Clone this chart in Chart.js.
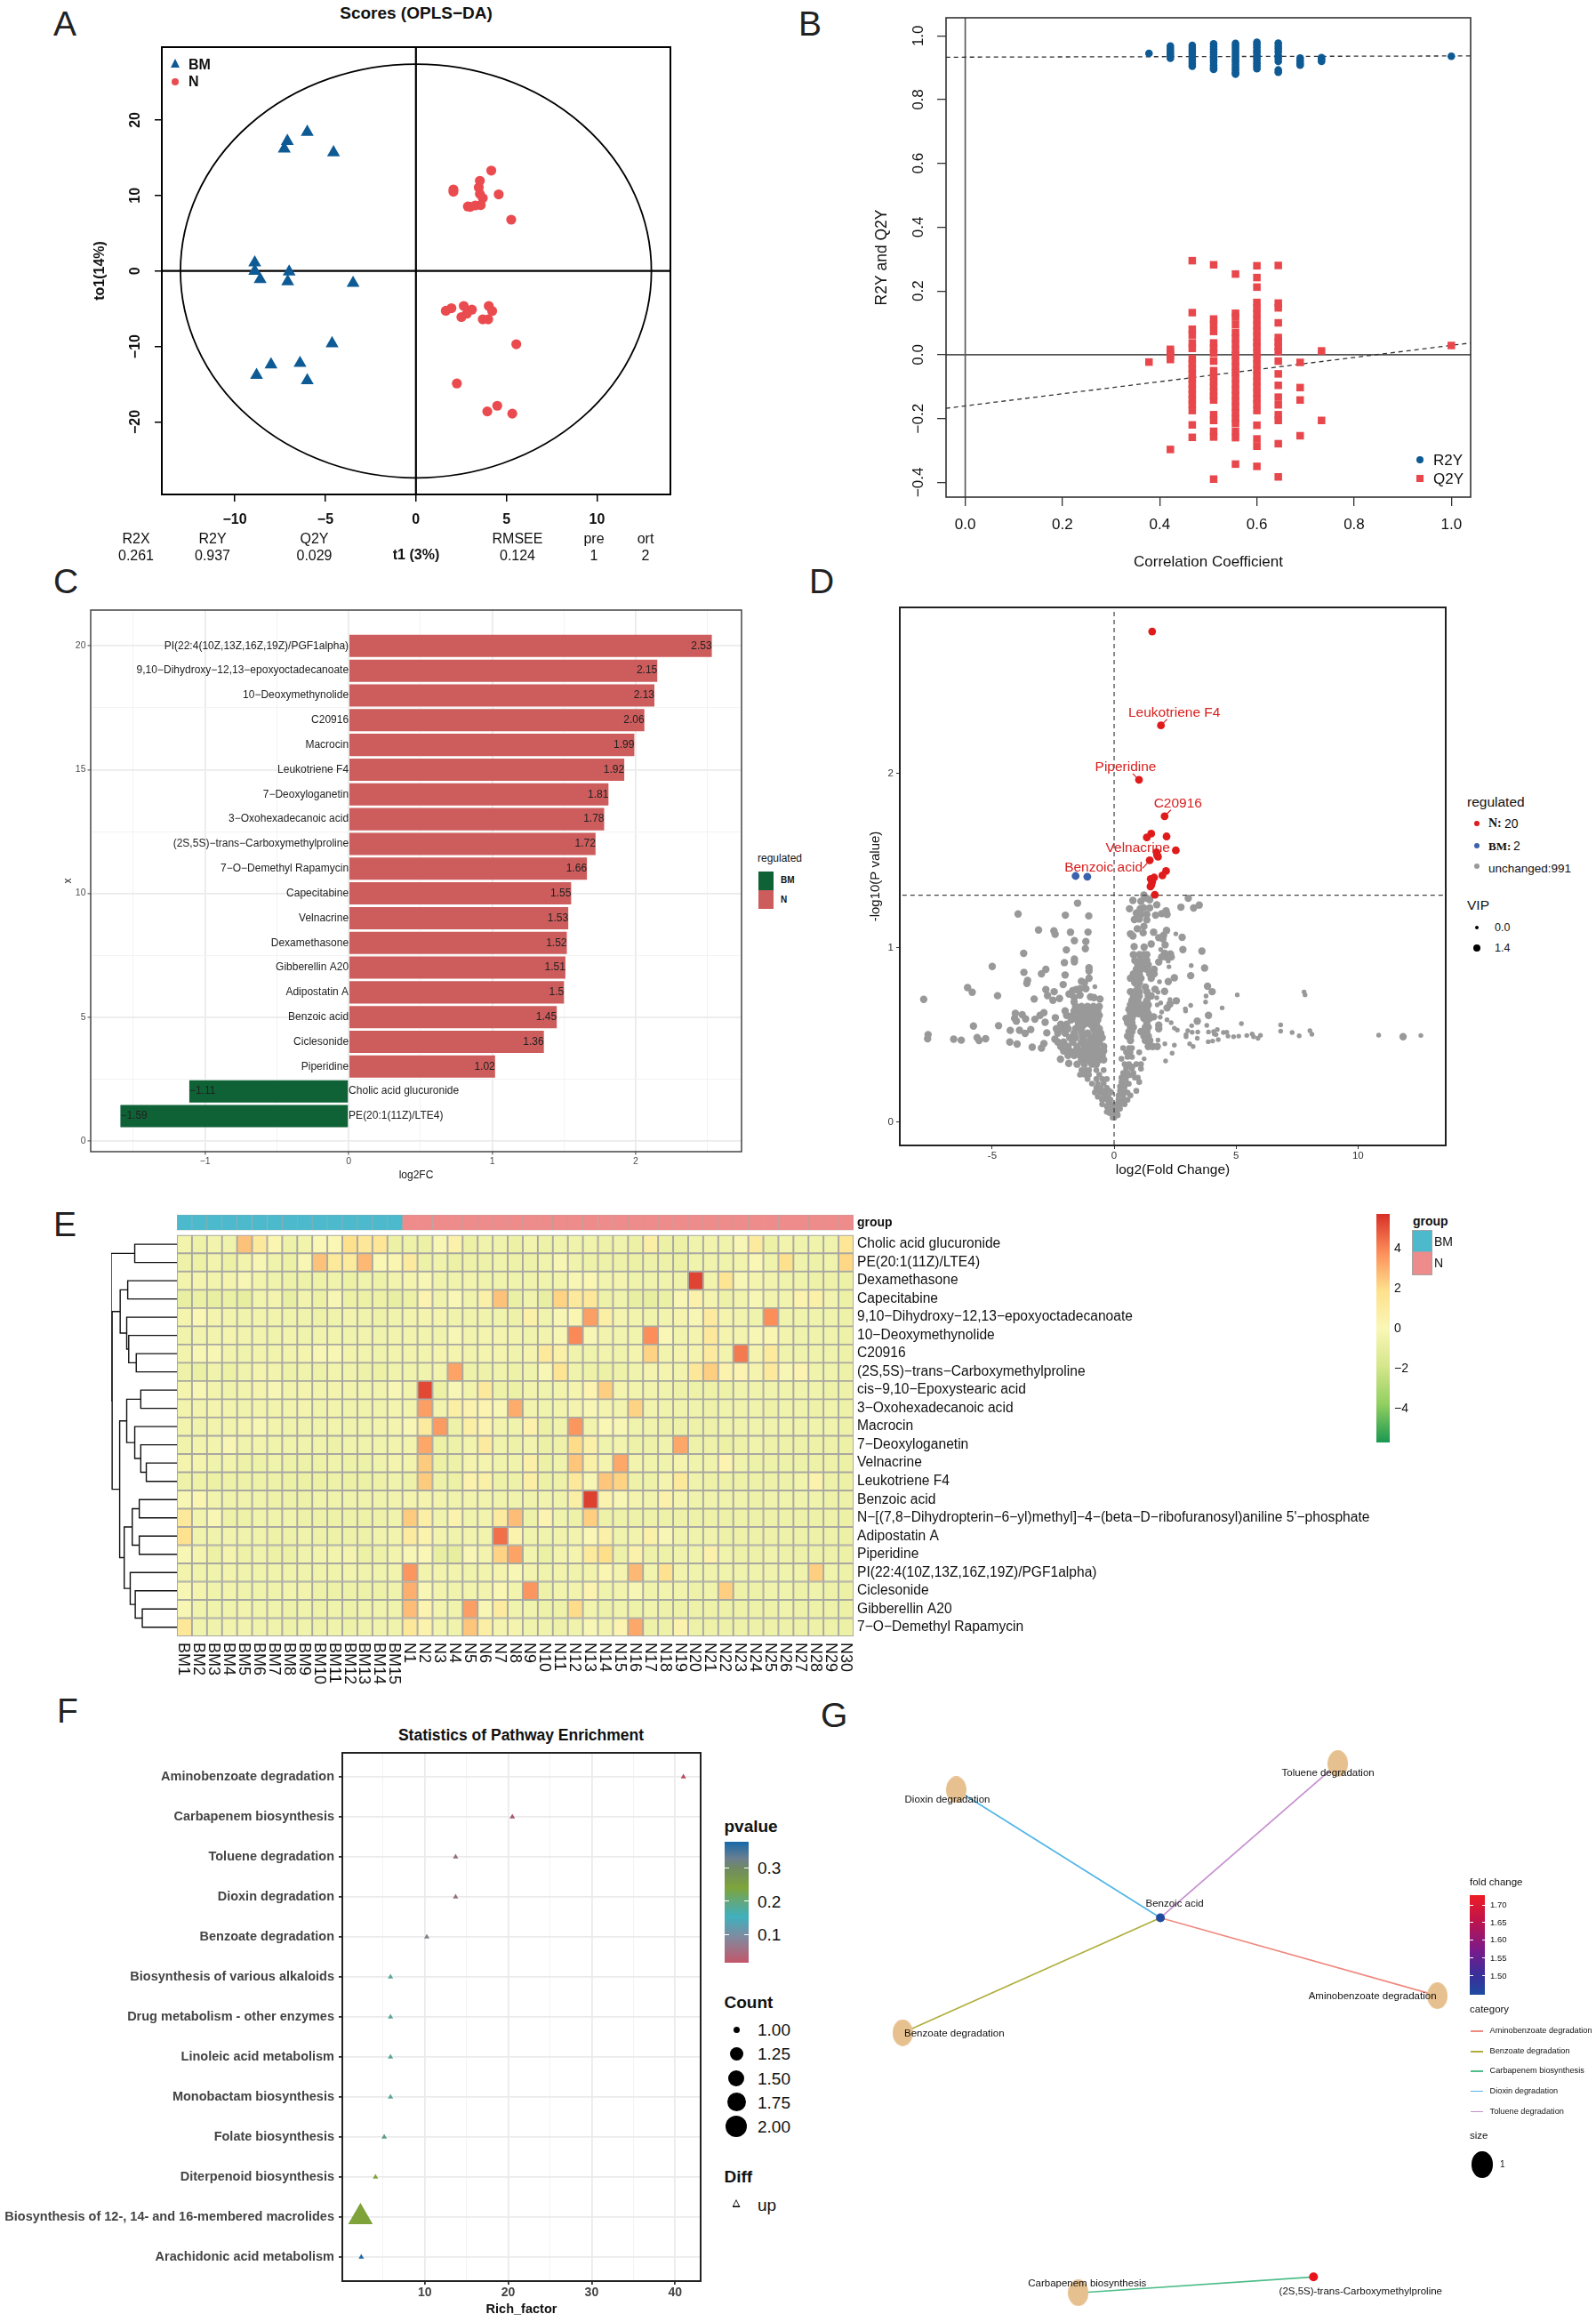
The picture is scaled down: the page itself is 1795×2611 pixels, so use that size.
<!DOCTYPE html>
<html>
<head>
<meta charset="utf-8">
<style>
html,body{margin:0;padding:0;background:#fff}
#page{position:relative;width:1795px;height:2611px;overflow:hidden;font-family:"Liberation Sans",Arial,sans-serif;color:#111}
#page canvas{position:absolute}
.t{position:absolute;white-space:nowrap;line-height:1}
.m{position:absolute}
</style>
<script src="https://cdn.jsdelivr.net/npm/chart.js@4"></script>
</head>
<body>
<div id="page"></div>
<script>
// panel A - OPLS-DA scores
const aBM = [[-6,18.4],[-7.1,17.2],[-7.27,16.2],[-4.55,15.7],[-8.9,1.1],[-8.9,0],[-7,-.1],[-8.6,-1.1],[-7.08,-1.4],[-3.47,-1.6],[-4.63,-9.6],[-8,-12.4],[-6.4,-12.2],[-8.8,-13.8],[-6,-14.5]];
const aN = [[4.16,13.3],[3.53,11.95],[3.47,11.07],[2.07,10.8],[2.07,10.5],[3.53,10.2],[4.57,10.15],[3.69,9.66],[3.58,8.73],[3.28,8.68],[2.87,8.54],[3,8.5],[5.26,6.8],
  [1.65,-5.27],[1.96,-4.93],[2.64,-4.63],[3.09,-5.12],[2.81,-5.66],[2.51,-6.1],[4.02,-4.63],[4.21,-5.3],[3.69,-6.4],[3.99,-6.4],[5.54,-9.7],[2.26,-14.9],[4.49,-17.85],[3.94,-18.6],[5.32,-18.9]];
const aEllipse = [13,27.4];

// panel B - permutation test
const bX = [.378,.422,.467,.511,.556,.6,.644,.689,.733,1];
const bR2Y = [
  [.945],
  [.968,.96,.952,.945,.938,.93],
  [.97,.962,.953,.945,.936,.928,.92,.912,.905],
  [.975,.966,.958,.95,.942,.933,.925,.917,.908,.9,.895],
  [.976,.968,.96,.951,.943,.935,.927,.919,.91,.902,.894,.886,.88],
  [.98,.972,.964,.955,.947,.938,.93,.921,.913,.905,.897],
  [.977,.968,.96,.95,.938,.93,.92,.893,.886],
  [.93,.922,.914,.908],
  [.932,.926,.92],
  [.936]
];
const bQ2Y = [
  [-.023],
  [.017,.008,-.003,-.015,-.297],
  [.295,.132,.08,.062,.037,.02,-.012,-.028,-.044,-.06,-.076,-.092,-.108,-.124,-.14,-.156,-.175,-.22,-.259],
  [.282,.112,.095,.073,.037,.02,.005,-.02,-.05,-.07,-.085,-.1,-.115,-.142,-.13,-.188,-.206,-.24,-.258,-.39],
  [.253,.13,.118,.095,.07,.052,.034,.016,-.002,-.02,-.038,-.056,-.074,-.092,-.11,-.128,-.146,-.164,-.182,-.2,-.215,-.24,-.26,-.343],
  [.279,.242,.212,.164,.146,.128,.11,.092,.074,.056,.038,.025,.005,-.012,-.03,-.048,-.066,-.084,-.102,-.12,-.138,-.155,-.175,-.221,-.264,-.287,-.35],
  [.28,.162,.147,.1,.054,.04,.025,.01,-.02,-.06,-.096,-.133,-.157,-.188,-.206,-.279,-.383],
  [-.024,-.103,-.142,-.254],
  [.012,-.206],
  [.029]
];
const bFitR2Y = [[-.04,.933],[1.04,.937]];
const bFitQ2Y = [[-.04,-.168],[1.04,.037]];

// panel C - log2FC bars
const cNames = ['PE(20:1(11Z)/LTE4)','Cholic acid glucuronide','Piperidine','Ciclesonide','Benzoic acid','Adipostatin A','Gibberellin A20','Dexamethasone','Velnacrine','Capecitabine','7−O−Demethyl Rapamycin','(2S,5S)−trans−Carboxymethylproline','3−Oxohexadecanoic acid','7−Deoxyloganetin','Leukotriene F4','Macrocin','C20916','10−Deoxymethynolide','9,10−Dihydroxy−12,13−epoxyoctadecanoate','PI(22:4(10Z,13Z,16Z,19Z)/PGF1alpha)'];
const cValues = [-1.59,-1.11,1.02,1.36,1.45,1.5,1.51,1.52,1.53,1.55,1.66,1.72,1.78,1.81,1.92,1.99,2.06,2.13,2.15,2.53];

// panel D - volcano
const dRed = [[1.56,2.816],[1.92,2.277],[1.02,1.965],[2.07,1.756],[1.52,1.656],[1.34,1.634],[2.15,1.64],[2.53,1.56],[1.74,1.549],[1.76,1.533],[1.8,1.523],[1.46,1.503],[2.13,1.442],[1.98,1.416],[1.64,1.404],[1.5,1.396],[1.56,1.379],[1.53,1.362],[1.49,1.353],[1.67,1.305]];
const dBlue = [[-1.58,1.413],[-1.1,1.409]];
const dGreyBig = [
  [-1.5,1.257],[-3.94,1.195],[-2,1.188],[-1.04,1.184],[-3.1,1.103],[-2.47,1.098],[-2.42,1.079],[-1.79,1.09],[-1.07,1.091],[-1.63,1.042],[-1.16,1.037],[-1.96,.989],[-1.18,.996],[-3.71,.969],[-2.04,.916],[-1.63,.936],[-1.63,.921],[-5,.894],[-1.03,.886],[-1.03,.868],[-3.7,.86],[-2.8,.877],[-2.98,.852],[-2.01,.845],[-1.03,.826],[-3.55,.814],[-3.58,.797],[-1.34,.809],[-1.22,.8],[-2.09,.79],[-6.01,.773],[-5.82,.746],[-7.81,.705],[-4.78,.726],[-2.8,.761],[-2.46,.749],[-2.73,.727],[-3.28,.707],[-2.51,.7],[-2.24,.71],[-1.85,.736],[-1.7,.755],[-1.56,.761],[-1.4,.766],[-1.16,.766],[-1.4,.729],[-1.64,.715],[-1.64,.69],[-.97,.719],[-.83,.715],[-.58,.707],
  [-4.05,.625],[-3.77,.617],[-4.08,.596],[-4.01,.58],[-3.63,.593],[-3.25,.591],[-3.04,.613],[-2.88,.629],[-2.83,.574],[-2.41,.6],[-2.01,.639],[-1.95,.613],[-5.77,.552],[-4.74,.554],[-4.26,.527],[-3.88,.528],[-3.65,.51],[-3.42,.532],[-2.76,.513],[-7.63,.503],[-7.65,.479],[-6.58,.477],[-6.27,.471],[-5.62,.486],[-5.54,.469],[-5.27,.479],[-4.28,.46],[-3.98,.449],[-3.36,.431],[-2.88,.452],[-2.98,.426],[-2.43,.477],[-2.2,.362],[-1.86,.338],
  [3.04,1.285],[2.74,1.234],[3.26,1.229],[3.49,1.246],[1.75,1.248],[1.7,1.188],[1.95,1.197],[2.13,1.213],[2.17,1.192],[.77,1.273],[.63,1.225],[1.1,1.268],[1.34,1.285],[1.46,1.276],[1.22,1.303],[1.07,1.225],[1.22,1.23],[1.46,1.23],[.91,1.2],[1.1,1.192],[1.34,1.192],[.83,1.163],[1.03,1.166],[1.34,1.161],[1.22,1.124],[.95,1.11],[1.19,1.087],[.67,1.081],[.77,1.069],[1.62,1.09],[2.15,1.101],[2.03,1.073],[2,1.052],[1.83,1.059],[2.79,1.061],[.82,1.008],[1.23,1.005],[1.52,1.023],[2.09,1.018],[2.82,.991],[3.6,.982],[2.07,.97],[2.31,.965],[1.95,.948],[2.13,.948],[2.34,.948],[1.83,.919],[3.71,.885],[3.14,.841],[2.47,.829],[2.22,.807],[3.83,.78],[4.02,.749],[2.07,.751],[1.68,.763],[2.55,.697],[2.29,.678],[2.17,.656],[3.87,.613],[3.41,.58],[1.62,.605],[1.83,.557],[1.83,.537],[11.85,.491]
];
const dGreySmall = [
  [2.53,1.081],[1.91,.991],[2.22,.925],[2.25,.892],[3.16,.899],[1.86,.806],[3.77,.724],[3.75,.69],[5.05,.731],[7.79,.748],[7.83,.731],[4.43,.656],[3.14,.671],[2.92,.651],[2.93,.639],[2.29,.704],[1.95,.632],[1.91,.685],[1.77,.673],[1.75,.714],[1.8,.746],[1.52,.732],[3.8,.556],[2.17,.588],[2.34,.571],[1.89,.603],[2.47,.54],[2.59,.529],[3.18,.554],[3.02,.525],[2.95,.503],[2.95,.491],[3.2,.516],[3.43,.518],[3.41,.482],[3.87,.518],[4.08,.52],[4.23,.532],[4.11,.506],[4.18,.503],[4.48,.515],[4.62,.516],[4.67,.494],[4.9,.491],[5.11,.494],[5.44,.498],[5.22,.566],[5.66,.506],[5.72,.491],[5.9,.482],[6,.499],[6.83,.559],[6.83,.523],[7.3,.515],[7.59,.496],[8.03,.525],[8.11,.505],[3.86,.462],[4.04,.466],[4.27,.474],[3.1,.45],[3.24,.435],[2.08,.45],[2.47,.442],[2.38,.396],[2.11,.352],[1.23,.364],[1.8,.472],[10.85,.5],[12.58,.498],[-.79,.778]
];
// solid parts of the two lobes, one row per -log10(P), x values after it
const dLobeBig = [
  [.664,-1.58,-1.34,-1.09,-.85,-.61],[.639,-1.64,-1.4,-1.16,-.91,-.67],[.613,-1.7,-1.52,-1.28,-1.03,-.79,-.61],[.588,-1.76,-1.52,-1.28,-1.09,-.85,-.67],
  [.562,-2.19,-1.95,-1.46,-1.22,-.97,-.73],[.537,-2.37,-2.13,-1.89,-1.58,-1.34,-.85,-.61],[.511,-2.31,-2.01,-1.64,-1.34,-1.09,-.79,-.55],[.486,-1.82,-1.58,-1.28,-.97,-.73,-.49],
  [.46,-2.31,-2.07,-1.7,-1.34,-1.09,-.85,-.61],[.435,-2.19,-1.89,-1.52,-1.22,-.97,-.73,-.43],[.409,-2.07,-1.82,-1.58,-1.34,-1.09,-.85,-.61,-.43],[.384,-1.89,-1.64,-1.4,-1.16,-.91,-.67,-.49],[.358,-1.34,-1.09,-.85,-.61,-.43],[.333,-1.52,-1.22,-.91,-.73],
  [.962,.79,1.04,1.22,1.34],[.928,.85,1.1,1.34],[.903,.97,1.22,1.4],[.877,.91,1.1,1.34,1.64],[.851,.79,1.03,1.46,1.64],[.826,.67,.91,1.1,1.52],[.8,.85,1.03],[.775,.97,1.28],[.749,.67,.85,1.03,1.34],[.724,.79,1.03,1.4,1.52],[.698,.73,.97,1.34],[.673,.67,.85,1.03,1.22,1.4],[.647,.61,.79,.97,1.16,1.34],[.622,.67,.85,1.03,1.22,1.4],[.596,.49,.73,1.22,1.46],[.571,.55,.73,1.34],[.545,.67,.79,1.28,1.4],[.52,.61,.73,1.1,1.34],[.494,.55,.67,1.22,1.4],[.469,.67,1.28,1.46],[.435,1.4,1.58,1.77]
];
const dLobeMid = [
  [.299,-1.34,-1.16,-1.03,-.73,-.43],[.273,-1.4,-1.22,-1.03,-.61],[.248,-1.09,-.73,-.49,-.3],[.222,-.91,-.67,-.43],[.197,-.73,-.55,-.3],[.171,-.79,-.55,-.36,-.12],[.146,-.67,-.43,-.24],[.103,-.49,-.24,-.12],[.078,-.24,-.12],[.052,-.18,-.06],[.027,-.06,0],
  [.18,-.6,-.4,-.2],[.13,-.5,-.3,-.15],[.09,-.3,-.18,-.06],[.06,-.3,-.1],
  [.426,.37,.61,.73],[.401,.49,.67,1.03],[.375,.55,.73],[.364,.3],[.333,.43,.61,.91,1.1],[.307,.49,.73,1.1],[.282,.37,.55,.79],[.256,.3,.49,.85,.97],[.231,.3,.49,1.03],[.205,.24,.43],[.18,.24,.43,.91],[.154,.18,.37,.67],[.129,.18,.37,.55],[.103,.06,.24,.43],[.078,.06,.24],[.052,0,.12],[.027,0],
  [.32,.55,.75],[.27,.45,.65],[.22,.4,.6],[.17,.3,.55],[.11,.2,.35],[.04,.05,.15]
];
const dNames = ['Leukotriene F4','Piperidine','C20916','Velnacrine','Benzoic acid'];
const dNamed = [[1.92,2.277],[1.02,1.965],[2.07,1.756],[1.74,1.549],[1.46,1.503]];

// panel E - heatmap
const eSamples = ['BM1','BM2','BM3','BM4','BM5','BM6','BM7','BM8','BM9','BM10','BM11','BM12','BM13','BM14','BM15','N1','N2','N3','N4','N5','N6','N7','N8','N9','N10','N11','N12','N13','N14','N15','N16','N17','N18','N19','N20','N21','N22','N23','N24','N25','N26','N27','N28','N29','N30'];
const eRows = ['Cholic acid glucuronide','PE(20:1(11Z)/LTE4)','Dexamethasone','Capecitabine','9,10−Dihydroxy−12,13−epoxyoctadecanoate','10−Deoxymethynolide','C20916','(2S,5S)−trans−Carboxymethylproline','cis−9,10−Epoxystearic acid','3−Oxohexadecanoic acid','Macrocin','7−Deoxyloganetin','Velnacrine','Leukotriene F4','Benzoic acid',"N−[(7,8−Dihydropterin−6−yl)methyl]−4−(beta−D−ribofuranosyl)aniline 5'−phosphate",'Adipostatin A','Piperidine','PI(22:4(10Z,13Z,16Z,19Z)/PGF1alpha)','Ciclesonide','Gibberellin A20','7−O−Demethyl Rapamycin'];
const eValues = [
  [-.2,-.4,-.2,-.3,2.6,1.2,.4,-.4,-.2,.2,.3,1.8,1.3,1.4,-.5, -.4,-.5,.1,.7,-.5,-.3,-.3,-.5,-.2,-.4,-.3,-.3,-.3,-.4,-.3,-.5,.9,-.5,-.5,-.3,-.2,-.3,.1,1,-.5,-.2,-.3,-.3,-.3,1.4],
  [-.4,-.5,-.2,-.5,-.2,.1,-.3,-.5,.1,2.6,1.2,1.1,2.8,.3,.4, 1,-.4,-.3,-.5,-.4,-.4,-.3,-.4,-.4,-.3,.1,-.3,-.4,-.4,-.4,-.5,-.4,-.4,-.5,-.3,-.3,-.3,-.2,.2,-.3,1.8,-.3,-.4,-.3,2.1],
  [-.2,-.1,-.2,-.1,.1,-.2,-.3,-.4,-.4,-.4,-.3,-.5,-.3,-.4,-.2, -.1,.1,-.3,-.3,-.2,-.3,-.3,-.3,-.3,-.3,-.2,.1,.3,-.2,-.1,-.3,-.3,-.3,-.3,5.3,-.2,1.5,.1,-.1,-.2,-.3,-.3,-.4,-.4,-.5],
  [-.7,-.6,-.7,-.6,-.8,-.2,-.1,-.7,-.2,-.5,.1,-.5,-.5,-.5,-.7, -.5,.5,-.3,.2,-.3,.8,2.6,-.6,-.3,-.7,2.2,1.2,1.3,-.4,-.3,-.7,-.8,-.6,.1,.7,-.1,-.4,-.2,.1,-.2,-.2,.6,.8,-.2,-.5],
  [-.1,.3,-.1,-.2,-.3,-.2,-.2,-.3,-.3,-.4,-.3,-.2,-.3,-.4,-.3, -.2,-.1,-.1,-.3,-.3,-.3,-.3,-.4,.8,-.3,.1,.4,3.4,.9,-.1,-.2,-.3,-.2,-.1,.1,1,-.1,-.2,-.3,3.8,-.3,-.3,-.3,-.3,-.4],
  [-.3,-.2,-.2,-.1,-.2,-.2,-.3,-.2,-.3,-.2,-.2,-.3,-.2,-.3,-.2, -.2,-.2,-.3,.1,-.2,-.1,-.1,-.2,-.3,-.2,.1,3.9,.1,-.2,-.2,-.2,3.8,.2,-.2,-.1,1.2,-.1,-.1,.1,.4,-.2,-.3,-.3,-.3,-.4],
  [-.2,.1,.1,-.2,-.3,-.2,-.2,-.2,-.1,.1,.1,-.2,-.2,-.3,-.2, -.2,-.2,-.1,-.1,-.2,-.1,-.1,-.3,-.1,1.2,.8,-.3,-.3,-.2,-.3,-.1,2.2,-.2,-.1,-.1,1,-.2,4.2,-.1,1.1,-.3,-.3,-.3,-.3,-.4],
  [-.4,-.6,-.3,-.5,-.3,-.1,-.2,-.4,-.3,-.4,-.2,-.3,-.4,-.5,-.3, -.3,-.3,-.2,3.3,-.4,-.4,-.3,-.4,-.3,.1,1.5,-.3,-.4,-.5,-.4,-.3,-.1,-.1,-.2,1.3,2.3,.6,.5,-.1,1.2,.1,.5,-.3,-.3,-.4],
  [-.1,.1,-.2,-.3,-.2,-.1,.1,-.2,-.1,-.2,-.1,-.2,-.2,-.2,.1, -.2,5.2,-.5,.1,-.2,1.2,-.4,-.5,-.2,-.3,-.2,-.1,.5,2.3,-.1,-.2,-.2,-.3,-.4,-.4,-.4,-.4,-.3,-.3,-.3,-.3,-.3,-.3,-.4,-.4],
  [-.2,-.2,-.1,-.2,-.3,-.2,-.2,-.2,-.1,-.3,-.2,-.3,-.3,-.3,-.1, -.2,3.4,-.2,.9,.6,.5,.1,3.1,-.2,-.3,-.2,-.1,.1,-.1,-.2,2.2,-.2,-.3,-.3,-.3,-.4,-.3,-.3,-.3,-.4,-.3,-.3,-.4,-.3,-.4],
  [-.2,-.3,-.2,-.2,-.1,.1,-.2,-.3,-.3,-.3,-.2,-.3,-.3,-.2,-.1, .1,1,3.5,-.4,.9,.6,-.2,-.3,.7,-.5,-.3,3.6,-.2,.3,.1,-.3,-.3,-.4,-.4,-.4,-.4,-.3,-.3,-.3,-.3,-.3,-.3,-.3,-.3,-.4],
  [-.3,-.2,-.2,.1,-.3,-.2,-.3,-.3,-.3,-.3,-.4,-.3,-.3,-.3,-.2, -.2,3.2,-.5,-.4,-.2,1,-.3,-.4,-.2,-.5,-.4,2,.8,-.3,-.2,-.4,-.4,-.3,3.2,-.4,-.4,-.5,-.4,-.3,-.4,-.4,-.4,-.4,-.4,-.5],
  [-.1,-.1,-.3,-.2,-.4,-.4,-.3,-.4,-.4,-.4,-.3,-.4,-.4,-.3,-.1, -.2,2.4,-.5,-.4,-.1,-.1,-.3,-.3,.8,-.5,-.3,2.5,.8,-.1,3.2,-.2,-.3,-.3,-.1,-.3,-.3,.5,-.3,-.4,-.4,-.4,-.4,-.4,-.4,-.5],
  [-.4,-.4,-.5,-.4,-.4,-.4,-.4,-.5,-.5,-.5,-.4,-.5,-.5,-.4,-.3, -.4,2.4,-.4,-.5,.6,.8,-.4,-.4,.9,-.5,-.4,1.2,.1,2.5,2.2,-.4,-.4,-.1,1.2,-.3,-.4,-.4,-.4,-.4,-.4,-.4,-.2,.6,-.4,-.5],
  [.1,.4,-.2,-.3,-.3,-.3,-.4,-.4,-.4,-.3,-.3,-.3,-.3,-.3,-.2, -.1,-.1,-.2,-.3,-.2,-.2,-.3,-.3,-.3,-.2,-.3,.9,5.4,.6,.1,-.1,-.2,.7,-.1,-.3,-.3,-.3,-.3,-.4,-.3,-.3,-.3,-.3,-.4,-.4],
  [1.2,-.2,.1,-.4,-.4,-.3,-.3,-.3,-.4,-.4,-.4,-.4,-.4,-.4,-.3, 2.4,.9,-.3,.6,-.3,-.2,1,2.7,-.4,.5,-.3,-.4,2.3,-.4,-.4,-.4,-.4,-.4,-.4,-.4,-.4,-.4,-.4,-.4,-.4,-.4,-.4,-.4,-.4,-.5],
  [1.7,-.3,-.3,-.2,-.3,-.3,-.4,-.4,-.3,-.4,-.4,-.4,-.4,-.3,-.2, 1,.6,-.2,-.3,-.2,-.2,4.4,.6,-.3,-.3,-.3,-.2,.2,.8,-.3,-.2,.8,.1,-.3,-.3,-.3,-.4,-.4,-.4,-.4,-.4,-.4,-.4,-.4,-.5],
  [.1,-.1,-.5,-.1,-.4,-.3,-.5,-.5,-.3,-.2,-.2,-.1,-.5,-.4,-.2, .1,.2,-.7,-.8,.1,-.2,2.2,3.3,-.2,-.6,-.2,-.1,1.1,1.9,-.4,.7,-.4,-.4,-.3,-.3,.7,-.3,-.4,-.4,-.3,-.4,-.4,-.4,-.4,-.5],
  [-.2,-.3,-.3,-.2,-.3,-.3,-.3,-.3,-.3,-.3,-.3,-.2,-.3,-.3,-.2, 3.6,-.2,-.2,-.2,-.3,-.2,-.1,.1,-.2,-.3,-.2,-.3,-.2,.4,-.1,2.8,-.2,1.7,-.2,-.3,-.3,-.3,-.3,-.3,-.3,-.3,-.3,2.3,-.3,-.4],
  [.1,-.1,-.3,-.2,-.3,-.3,-.3,-.2,-.2,-.4,-.4,-.4,-.4,-.4,-.3, 3,.1,-.2,-.3,-.2,-.2,.3,-.2,3.6,-.4,-.2,-.2,.5,-.3,-.2,.1,-.3,-.2,-.2,-.4,-.3,2.3,-.4,-.4,-.3,-.3,-.4,-.3,-.4,-.5],
  [.1,-.3,-.3,-.3,-.2,-.3,-.3,-.4,-.3,-.4,-.3,-.4,-.3,-.3,-.3, 2.7,.5,-.2,-.3,3.4,.1,1,-.3,-.3,-.4,-.4,2,-.2,-.4,-.3,-.4,-.3,-.4,-.4,-.4,-.4,-.4,-.4,-.4,-.4,-.3,-.4,-.4,-.4,-.5],
  [1.3,-.3,-.3,-.2,-.2,-.3,-.3,-.4,-.3,-.4,-.3,-.4,-.3,-.3,-.3, 1.3,.6,-.2,-.3,2.5,.9,-.1,-.1,-.3,-.3,-.4,-.3,.1,-.2,.5,3.2,-.4,-.4,.6,-.4,-.4,-.4,-.4,-.4,-.4,-.4,-.4,-.4,-.4,-.5]
];
// row dendrogram merges: [child, child, height]; 0-21 are rows, 22+ are earlier merges
const eMerges = [[0,1,84],[2,3,98],[6,7,81],[5,24,96],[4,25,100],[23,26,113],[8,9,72],[12,13,61],[11,29,72],[10,30,84],[28,31,100],[14,15,75],[16,17,75],[33,34,89],[20,21,69],[19,36,83],[18,37,93],[35,38,105],[32,39,114],[27,40,129],[22,41,131]];
const ePalette = ['#1a9850','#91cf60','#d5e68b','#faf7b6','#fee08b','#fc8d59','#d73027'];

// panel F - pathway enrichment
const fNames = ['Aminobenzoate degradation','Carbapenem biosynthesis','Toluene degradation','Dioxin degradation','Benzoate degradation','Biosynthesis of various alkaloids','Drug metabolism - other enzymes','Linoleic acid metabolism','Monobactam biosynthesis','Folate biosynthesis','Diterpenoid biosynthesis','Biosynthesis of 12-, 14- and 16-membered macrolides','Arachidonic acid metabolism'];
const fRich = [41,20.5,13.7,13.7,10.25,5.9,5.9,5.9,5.9,5.15,4.1,2.3,2.4];
const fColors = ['#b84d61','#a3596a','#917080','#917080','#80808a','#58a898','#58a898','#58a898','#58a898','#5b9c82','#7ea53b','#7fa33a','#1f69a8'];
const fRadius = [3.5,3.5,3.5,3.5,3.5,3.5,3.5,3.5,3.5,3.5,3.5,16,3.5];

// panel G - network
const gNodes = ['Benzoic acid','Dioxin degradation','Toluene degradation','Aminobenzoate degradation','Benzoate degradation','Carbapenem biosynthesis','(2S,5S)-trans-Carboxymethylproline'];
const gNodeX = [49.3,16.5,77.8,93.8,7.9,36.1,73.9];
const gNodeY = [69.3,91.8,96.4,55.6,49.1,3.4,6.2];
const gEdges = [[0,3,'#f08a80'],[0,4,'#b0ae3c'],[5,6,'#4dbd8a'],[0,1,'#52b5e8'],[0,2,'#c58fd0']];
const gCategories = ['Aminobenzoate degradation','Benzoate degradation','Carbapenem biosynthesis','Dioxin degradation','Toluene degradation'];

Chart.defaults.animation = false;
Chart.defaults.font.family = '"Liberation Sans", Arial, sans-serif';
Chart.defaults.plugins.legend.display = false;
Chart.defaults.plugins.tooltip.enabled = false;

const page = document.getElementById('page');

function txt(s, x, y, o) {
  o = o || {};
  const d = document.createElement('div');
  d.className = 't';
  d.textContent = s;
  d.style.left = x + 'px';
  d.style.top = y + 'px';
  d.style.fontSize = (o.size || 14) + 'px';
  if (o.bold) d.style.fontWeight = 'bold';
  if (o.color) d.style.color = o.color;
  if (o.family) d.style.fontFamily = o.family;
  const ax = o.anchor == 'c' ? '-50%' : o.anchor == 'r' ? '-100%' : '0';
  d.style.transform = 'translate(' + ax + ',-50%)';
  page.appendChild(d);
}

function mark(kind, x, y, r, color) {
  const d = document.createElement('div');
  d.className = 'm';
  d.style.left = (x - r) + 'px';
  d.style.top = (y - r) + 'px';
  d.style.width = d.style.height = 2 * r + 'px';
  d.style.background = color;
  if (kind == 'circle') d.style.borderRadius = '50%';
  if (kind == 'tri') d.style.clipPath = 'polygon(50% 0,100% 100%,0 100%)';
  page.appendChild(d);
}

function rect(x, y, w, h, bg, border) {
  const d = document.createElement('div');
  d.className = 'm';
  d.style.left = x + 'px';
  d.style.top = y + 'px';
  d.style.width = w + 'px';
  d.style.height = h + 'px';
  d.style.background = bg;
  if (border) d.style.outline = border;
  page.appendChild(d);
}

// box = plot rectangle in page pixels, axL/axB/padT/padR = room kept around it
function addChart(box, cfg) {
  const c = document.createElement('canvas');
  c.width = box.r - box.l + box.axL + box.padR;
  c.height = box.b - box.t + box.axB + box.padT;
  c.style.left = (box.l - box.axL) + 'px';
  c.style.top = (box.t - box.padT) + 'px';
  page.appendChild(c);
  const o = cfg.options;
  o.responsive = false;
  o.maintainAspectRatio = false;
  const rightAxis = o.scales.y.position == 'right';
  o.layout = {autoPadding: false, padding: {top: box.padT, right: rightAxis ? 0 : box.padR, left: 0, bottom: 0}};
  const noMargins = s => { s.paddingTop = s.paddingBottom = s.paddingLeft = s.paddingRight = 0; };
  o.scales.x.afterFit = s => { s.height = box.axB; noMargins(s); };
  o.scales.y.afterFit = s => { s.width = rightAxis ? box.padR : box.axL; noMargins(s); };
  return new Chart(c, cfg);
}

function pts(list) { return list.map(p => ({x: p[0], y: p[1]})); }
function rows(list) { return list.flatMap(r => r.slice(1).map(x => ({x: x, y: r[0]}))); }
function minusTick(v) { return String(v).replace('-', '−'); }

function frame(width, color) {
  return {id: 'frame', afterDatasetsDraw(chart) {
    const a = chart.chartArea, ctx = chart.ctx;
    ctx.save();
    ctx.lineWidth = width;
    ctx.strokeStyle = color;
    ctx.strokeRect(a.left, a.top, a.right - a.left, a.bottom - a.top);
    ctx.restore();
  }};
}

// text (and short leader lines) tied to data values through the scales
function notes(list) {
  return {id: 'notes', afterDraw(chart) {
    const ctx = chart.ctx, sx = chart.scales.x, sy = chart.scales.y;
    ctx.save();
    list.forEach(n => {
      const px = sx.getPixelForValue(n.x), py = sy.getPixelForValue(n.y);
      if (n.seg) {
        ctx.strokeStyle = n.color;
        ctx.lineWidth = 1.2;
        ctx.beginPath();
        ctx.moveTo(px, py);
        ctx.lineTo(px + n.seg[0], py + n.seg[1]);
        ctx.stroke();
      }
      ctx.font = n.font;
      ctx.fillStyle = n.color;
      ctx.textAlign = n.align || 'center';
      ctx.textBaseline = 'middle';
      ctx.fillText(n.text, px + (n.dx || 0), py + (n.dy || 0));
    });
    ctx.restore();
  }};
}

function refLine(a, b, color, width, dash) {
  return {type: 'scatter', showLine: true, data: pts([a, b]), borderColor: color, borderWidth: width, borderDash: dash || [], pointRadius: 0, fill: false};
}

// ---------- A ----------
const ellipsePlugin = {id: 'ellipse', afterDatasetsDraw(chart) {
  const sx = chart.scales.x, sy = chart.scales.y, ctx = chart.ctx;
  const cx = sx.getPixelForValue(0), cy = sy.getPixelForValue(0);
  ctx.save();
  ctx.lineWidth = 1.8;
  ctx.strokeStyle = '#000';
  ctx.beginPath();
  ctx.ellipse(cx, cy, sx.getPixelForValue(aEllipse[0]) - cx, cy - sy.getPixelForValue(aEllipse[1]), 0, 0, 2 * Math.PI);
  ctx.stroke();
  ctx.restore();
}};
addChart({l:182,t:53,r:754,b:556,axL:82,axB:80,padT:5,padR:5}, {
  type: 'scatter',
  data: {datasets: [
    {data: pts(aBM), pointStyle: 'triangle', pointRadius: 8.4, backgroundColor: '#0d5a94', borderWidth: 0},
    {data: pts(aN), pointStyle: 'circle', pointRadius: 5.6, backgroundColor: '#ea4b4f', borderWidth: 0},
    refLine([0,-40],[0,40],'#000',2.2),
    refLine([-20,0],[20,0],'#000',2.2)
  ]},
  options: {scales: {
    x: {type:'linear',min:-14.03,max:14.05,grid:{drawOnChartArea:false,tickLength:8,color:'#000',lineWidth:1.5},border:{display:false},
      ticks:{stepSize:5,includeBounds:false,autoSkip:false,padding:11,color:'#111',font:{size:16,weight:'bold'},maxRotation:0,callback:minusTick},
      title:{display:true,text:'t1 (3%)',color:'#111',font:{size:16,weight:'bold'},padding:{top:0,bottom:2}}},
    y: {type:'linear',min:-29.6,max:29.65,grid:{drawOnChartArea:false,tickLength:8,color:'#000',lineWidth:1.5},border:{display:false},
      ticks:{stepSize:10,includeBounds:false,autoSkip:false,padding:8,crossAlign:'center',minRotation:90,maxRotation:90,color:'#111',font:{size:16,weight:'bold'},callback:minusTick},
      title:{display:true,text:'to1(14%)',color:'#111',font:{size:16,weight:'bold'},padding:{top:3,bottom:0}}}
  }},
  plugins: [frame(2,'#000'), ellipsePlugin]
});
txt('Scores (OPLS−DA)', 468, 14, {size:19, bold:true, anchor:'c'});
mark('tri', 197, 71, 5, '#0d5a94'); txt('BM', 212, 73, {size:16, bold:true});
mark('circle', 197, 92, 4, '#ea4b4f'); txt('N', 212, 92, {size:16, bold:true});
[['R2X','0.261',153],['R2Y','0.937',239],['Q2Y','0.029',353.5],['RMSEE','0.124',582],['pre','1',668],['ort','2',726]].forEach(r => {
  txt(r[0], r[2], 606, {size:16, anchor:'c'});
  txt(r[1], r[2], 625, {size:16, anchor:'c'});
});

// ---------- B ----------
addChart({l:1064,t:20,r:1654,b:559,axL:92,axB:88,padT:5,padR:5}, {
  type: 'scatter',
  data: {datasets: [
    {data: bX.flatMap((x,i) => bR2Y[i].map(y => ({x:x,y:y}))), pointStyle:'circle', pointRadius:4.3, backgroundColor:'#0d5a94', borderWidth:0},
    {data: bX.flatMap((x,i) => bQ2Y[i].map(y => ({x:x,y:y}))), pointStyle:'rect', pointRadius:6, backgroundColor:'#e8474c', borderWidth:0},
    refLine(bFitR2Y[0],bFitR2Y[1],'#333',1.3,[5,4]),
    refLine(bFitQ2Y[0],bFitQ2Y[1],'#333',1.3,[5,4]),
    refLine([0,-1],[0,2],'#555',1.6),
    refLine([-1,0],[2,0],'#555',1.6)
  ]},
  options: {scales: {
    x: {type:'linear',min:-.0395,max:1.0397,grid:{drawOnChartArea:false,tickLength:10,color:'#333',lineWidth:1.3},border:{display:false},
      ticks:{stepSize:.2,includeBounds:false,autoSkip:false,padding:11,color:'#111',font:{size:17},maxRotation:0,callback:v => v.toFixed(1)},
      title:{display:true,text:'Correlation Coefficient',color:'#111',font:{size:17},padding:{top:0,bottom:4}}},
    y: {type:'linear',min:-.4465,max:1.0566,grid:{drawOnChartArea:false,tickLength:10,color:'#333',lineWidth:1.3},border:{display:false},
      ticks:{stepSize:.2,includeBounds:false,autoSkip:false,padding:4,crossAlign:'center',minRotation:90,maxRotation:90,color:'#111',font:{size:17},callback:v => v.toFixed(1).replace('-','−')},
      title:{display:true,text:'R2Y and Q2Y',color:'#111',font:{size:17.5},padding:{top:10,bottom:0}}}
  }},
  plugins: [frame(1.6,'#333')]
});
mark('circle', 1597, 517, 4, '#0d5a94'); txt('R2Y', 1612, 517, {size:17});
mark('square', 1597, 538, 4.2, '#e8474c'); txt('Q2Y', 1612, 538, {size:17});

// ---------- C ----------
function gridBW(step) {
  return {
    offset: false,
    color: c => (c.tick && Math.abs(c.tick.value / step % 2) > .01 ? '#f3f3f3' : '#ebebeb'),
    lineWidth: c => (c.tick && Math.abs(c.tick.value / step % 2) > .01 ? 1 : 1.8),
    tickColor: c => (c.tick && Math.abs(c.tick.value / step % 2) > .01 ? 'rgba(0,0,0,0)' : '#444'),
    tickWidth: 1,
    tickLength: 3.5
  };
}
const cNotes = [];
cValues.forEach((v,i) => {
  const y = i + 1;
  cNotes.push({x:0, y:y, text:cNames[i], font:'12px "Liberation Sans"', color:'#222', align: v > 0 ? 'right' : 'left'});
  cNotes.push({x:v, y:y, text:String(v).replace('-','−'), font:'12px "Liberation Sans"', color:'#222', align: v > 0 ? 'right' : 'left'});
});
addChart({l:102,t:686,r:834,b:1295,axL:102,axB:36,padT:5,padR:5}, {
  type: 'bar',
  data: {datasets: [{
    data: cValues.map((v,i) => ({x:v, y:i+1})),
    backgroundColor: cValues.map(v => v > 0 ? '#cd5c5c' : '#0f6136'),
    barPercentage: .9, categoryPercentage: 1
  }]},
  options: {indexAxis:'y', scales: {
    x: {type:'linear',min:-1.797,max:2.737,grid:gridBW(.5),border:{display:false},
      ticks:{stepSize:.5,includeBounds:false,autoSkip:false,padding:1.5,color:'#4d4d4d',font:{size:10.5},maxRotation:0,callback:v => Number.isInteger(v) ? minusTick(v) : ''},
      title:{display:true,text:'log2FC',color:'#111',font:{size:12},padding:{top:0,bottom:2}}},
    y: {type:'linear',offset:false,min:-.438,max:21.45,grid:gridBW(2.5),border:{display:false},
      ticks:{stepSize:2.5,includeBounds:false,autoSkip:false,padding:2,color:'#4d4d4d',font:{size:10.5},callback:v => Number.isInteger(v) ? v : ''},
      title:{display:true,text:'x',color:'#111',font:{size:12},padding:{top:69,bottom:0}}}
  }},
  plugins: [frame(1.5,'#444'), notes(cNotes)]
});
txt('regulated', 852, 965, {size:12});
rect(853, 980, 17, 20.5, '#0f6136'); txt('BM', 878, 990, {size:10, bold:true});
rect(853, 1001, 17, 21, '#cd5c5c'); txt('N', 878, 1012, {size:10, bold:true});

// ---------- D ----------
const dLabelFont = '15.5px "Liberation Sans"';
const dOffsets = [[15,-14,7,-7],[-15,-14,-7,-7],[15,-14,7,-7],[-21,-5],[-52,8,-8,9]];
const dNotes = dNames.map((name,i) => ({x:dNamed[i][0], y:dNamed[i][1], dx:dOffsets[i][0], dy:dOffsets[i][1], seg:dOffsets[i][2] ? [dOffsets[i][2],dOffsets[i][3]] : null, text:name, font:dLabelFont, color:'#d8201f'}));
addChart({l:1012,t:683,r:1626,b:1288,axL:100,axB:40,padT:5,padR:5}, {
  type: 'scatter',
  data: {datasets: [
    {data: pts(dRed), pointRadius:4.4, backgroundColor:'#e01b1b', borderWidth:0},
    {data: pts(dBlue), pointRadius:4.4, backgroundColor:'#3b62ad', borderWidth:0},
    refLine([0,-1],[0,4],'#444',1.2,[5,4]),
    refLine([-10,1.303],[15,1.303],'#444',1.2,[5,4]),
    {data: pts(dGreyBig).concat(rows(dLobeBig)), pointRadius:4.2, backgroundColor:'#999999', borderWidth:0},
    {data: rows(dLobeMid), pointRadius:3.3, backgroundColor:'#999999', borderWidth:0},
    {data: pts(dGreySmall), pointRadius:2.7, backgroundColor:'#999999', borderWidth:0}
  ]},
  options: {scales: {
    x: {type:'linear',min:-8.79,max:13.6,grid:{drawOnChartArea:false,tickLength:4,color:'#333'},border:{display:false},
      ticks:{stepSize:5,includeBounds:false,autoSkip:false,padding:1,color:'#333',font:{size:11.5},maxRotation:0},
      title:{display:true,text:'log2(Fold Change)',color:'#111',font:{size:15.5},padding:{top:0,bottom:3}}},
    y: {type:'linear',min:-.133,max:2.954,grid:{drawOnChartArea:false,tickLength:4,color:'#333'},border:{display:false},
      ticks:{stepSize:1,includeBounds:false,autoSkip:false,padding:3,color:'#333',font:{size:11.5}},
      title:{display:true,text:'-log10(P value)',color:'#111',font:{size:15},padding:{top:64,bottom:0}}}
  }},
  plugins: [frame(2,'#222'), notes(dNotes)]
});
const serifBold = '"Liberation Serif", serif';
txt('regulated', 1650, 902, {size:15.5});
mark('circle', 1661, 926, 3.4, '#e01b1b'); txt('N:', 1674, 926, {size:14, bold:true, family:serifBold}); txt('20', 1692, 926, {size:14});
mark('circle', 1661, 951, 3.4, '#3b62ad'); txt('BM:', 1674, 951, {size:13, bold:true, family:serifBold}); txt('2', 1702, 951, {size:14});
mark('circle', 1661, 974, 3.4, '#999999'); txt('unchanged:991', 1674, 977, {size:13.5});
txt('VIP', 1650, 1018, {size:15.5});
mark('circle', 1661, 1043, 2.4, '#000'); txt('0.0', 1681, 1043, {size:12.5});
mark('circle', 1661, 1066, 4, '#000'); txt('1.4', 1681, 1066, {size:12.5});

// ---------- E ----------
function hexRgb(h) { return [1,3,5].map(i => parseInt(h.substr(i,2),16)); }
function heatColor(v) {
  // pale cells lean a little to the green side in the picture
  const lim = 5.72, s = v < 1 ? v - .2 : v;
  const t = Math.max(0, Math.min(.9999, (s + lim) / (2 * lim))) * (ePalette.length - 1);
  const i = Math.floor(t), f = t - i, a = hexRgb(ePalette[i]), b = hexRgb(ePalette[i+1]);
  return 'rgb(' + a.map((c,k) => Math.round(c + (b[k] - c) * f)).join(',') + ')';
}
const eTop = -1.113;
const eDatasets = eValues.map((row,i) => ({
  data: row.map(() => [i, i+1]),
  backgroundColor: row.map(heatColor),
  borderColor: '#a8a8a2', borderWidth: 1.3, borderSkipped: false,
  grouped: false, barPercentage: 1, categoryPercentage: 1
}));
eDatasets.push({
  data: eSamples.map(() => [eTop, -.274]),
  backgroundColor: eSamples.map(s => s[0] == 'B' ? '#4cb9cc' : '#ee8b8b'),
  borderColor: '#a8a8a2', borderWidth: .6, borderSkipped: false,
  grouped: false, barPercentage: 1, categoryPercentage: 1
});
addChart({l:199,t:1366,r:960,b:1840,axL:0,axB:64,padT:0,padR:620}, {
  type: 'bar',
  data: {labels: eSamples, datasets: eDatasets},
  options: {scales: {
    x: {type:'category',grid:{display:false,drawTicks:false},border:{display:false},
      afterDataLimits: s => { s._getXAxisLabelAlignment = () => 'left'; },
      ticks:{autoSkip:false,minRotation:-90,maxRotation:-90,padding:7,labelOffset:-1,color:'#111',font:{size:18}}},
    y: {type:'linear',position:'right',reverse:true,min:eTop,max:22,grid:{display:false,drawTicks:false},border:{display:false},
      afterBuildTicks: s => { s.ticks = [{value:-.69}].concat(eRows.map((r,i) => ({value:i+.5}))); },
      ticks:{autoSkip:false,padding:4,color:'#111',font:c => (c.index == 0 ? {size:14,weight:'bold'} : {size:15.6}),
        callback: (v,i) => i == 0 ? 'group' : eRows[i-1]}}
  }}
});
// dendrogram through its own scales, same row scale as the heatmap
const eNodes = eRows.map((r,i) => ({y:i+.5, h:0}));
const eLinks = eMerges.map(m => {
  const a = eNodes[m[0]], b = eNodes[m[1]];
  eNodes.push({y:(a.y+b.y)/2, h:m[2]});
  return [[a.h,a.y],[m[2],a.y],[m[2],b.y],[b.h,b.y]];
});
addChart({l:125,t:1366,r:199,b:1840,axL:0,axB:0,padT:0,padR:0}, {
  type: 'scatter',
  data: {datasets: eLinks.map(l => ({showLine:true, data:pts(l), borderColor:'#111', borderWidth:1.4, pointRadius:0, clip:false}))},
  options: {scales: {
    x: {type:'linear',reverse:true,min:0,max:131,display:false},
    y: {type:'linear',reverse:true,min:eTop,max:22,display:false}
  }}
});
const eBar = document.createElement('div');
eBar.className = 'm';
eBar.style.cssText = 'left:1548px;top:1365px;width:14.5px;height:256.5px;background:linear-gradient(to top,' + ePalette.join(',') + ')';
page.appendChild(eBar);
[[4,1403],[2,1448],[0,1493],[-2,1538],[-4,1583]].forEach(r => txt(String(r[0]).replace('-','−'), 1568, r[1], {size:14}));
txt('group', 1589, 1373, {size:14, bold:true});
rect(1589, 1383.5, 20.5, 24.5, '#4cb9cc', '1px solid #a3a3a3');
rect(1589, 1408, 20.5, 24.5, '#ee8b8b', '1px solid #a3a3a3');
txt('BM', 1613, 1396, {size:14});
txt('N', 1613, 1420, {size:14});

// ---------- F ----------
addChart({l:385,t:1971,r:788,b:2565,axL:385,axB:46,padT:5,padR:5}, {
  type: 'scatter',
  data: {datasets: [{
    data: fRich.map((x,i) => ({x:x, y:13-i})),
    pointStyle:'triangle', pointRadius:fRadius, backgroundColor:fColors, borderWidth:0
  }]},
  options: {scales: {
    x: {type:'linear',min:.128,max:43.06,grid:{color:c => c.tick && c.tick.value % 10 ? '#f3f3f3' : '#ebebeb',lineWidth:c => c.tick && c.tick.value % 10 ? 1 : 1.8,tickColor:c => c.tick && c.tick.value % 10 ? 'rgba(0,0,0,0)' : '#333',tickLength:4},border:{display:false},
      ticks:{stepSize:5,includeBounds:false,autoSkip:false,padding:1,color:'#444',font:{size:14,weight:'bold'},maxRotation:0,callback:v => v % 10 ? '' : v},
      title:{display:true,text:'Rich_factor',color:'#111',font:{size:14.5,weight:'bold'},padding:{top:0,bottom:5}}},
    y: {type:'linear',min:.4,max:13.6,grid:{color:'#ebebeb',lineWidth:1.8,tickColor:'#333',tickLength:4},border:{display:false},
      ticks:{stepSize:1,includeBounds:false,autoSkip:false,padding:5,color:'#444',font:{size:14.5,weight:'bold'},callback:v => fNames[13-v]}}
  }},
  plugins: [frame(2,'#222')]
});
txt('Statistics of Pathway Enrichment', 586, 1952, {size:17.5, bold:true, anchor:'c'});
txt('pvalue', 814.5, 2053, {size:19, bold:true});
const fBar = document.createElement('div');
fBar.className = 'm';
fBar.style.cssText = 'left:814.5px;top:2071px;width:27.5px;height:135.5px;background:linear-gradient(to bottom,#1769aa 0%,#6b7f8e 14%,#6f8a62 22%,#7ea53a 38%,#5aa98c 52%,#3fb0bd 62%,#7d8ca0 78%,#c4566a 100%)';
page.appendChild(fBar);
[[0.3,2100],[0.2,2137.5],[0.1,2175]].forEach(r => {
  rect(814.5, r[1]-.5, 5.5, 1, '#fff');
  rect(836.5, r[1]-.5, 5.5, 1, '#fff');
  txt(r[0].toFixed(1), 852, r[1], {size:19});
});
txt('Count', 814.5, 2251, {size:19, bold:true});
[['1.00',2282,3.5],['1.25',2309,7.5],['1.50',2336.5,9],['1.75',2363.7,10.5],['2.00',2390.6,12]].forEach(r => {
  mark('circle', 828, r[1], r[2], '#000');
  txt(r[0], 852, r[1], {size:19});
});
txt('Diff', 814.5, 2447, {size:19, bold:true});
const fUp = document.createElement('div');
fUp.className = 'm';
fUp.style.cssText = 'left:823.5px;top:2473px;width:9px;height:9px;background:#000;clip-path:polygon(50% 0,100% 100%,0 100%,0 100%,18% 84%,82% 84%,50% 20%,18% 84%,0 100%)';
page.appendChild(fUp);
txt('up', 852, 2479, {size:19});

// ---------- G ----------
function ovalStyle(w, h, color) {
  const c = document.createElement('canvas');
  c.width = w; c.height = h;
  const x = c.getContext('2d');
  x.fillStyle = color;
  x.beginPath();
  x.ellipse(w/2, h/2, w/2, h/2, 0, 0, 2 * Math.PI);
  x.fill();
  return c;
}
const gOval = ovalStyle(23, 30, '#e6c18f');
const gStyles = ['circle', gOval, gOval, gOval, gOval, gOval, 'circle'];
const gOffsets = [[16,-16],[-10,11],[-11,11],[-73,1],[58,1],[10,-10],[53,17]];
const gNotes = gNodes.map((n,i) => ({x:gNodeX[i], y:gNodeY[i], dx:gOffsets[i][0], dy:gOffsets[i][1], text:n, font:'11.5px "Liberation Sans"', color:'#111'}));
addChart({l:960,t:1960,r:1660,b:2600,axL:0,axB:0,padT:0,padR:0}, {
  type: 'scatter',
  data: {datasets: [{
    data: gNodeX.map((x,i) => ({x:x, y:gNodeY[i]})),
    pointStyle: gStyles, pointRadius: [5,15,15,15,15,15,5],
    backgroundColor: ['#1f4aa0','#e6c18f','#e6c18f','#e6c18f','#e6c18f','#e6c18f','#e8141c'], borderWidth: 0
  }].concat(gEdges.map(e => ({
    showLine:true, data:[{x:gNodeX[e[0]],y:gNodeY[e[0]]},{x:gNodeX[e[1]],y:gNodeY[e[1]]}],
    borderColor:e[2], borderWidth:1.7, pointRadius:0
  })))},
  options: {scales: {
    x: {type:'linear',min:0,max:100,display:false},
    y: {type:'linear',min:0,max:100,display:false}
  }},
  plugins: [notes(gNotes)]
});
txt('fold change', 1653, 2117, {size:11.5});
const gBar = document.createElement('div');
gBar.className = 'm';
gBar.style.cssText = 'left:1653px;top:2130.5px;width:17px;height:112.5px;background:linear-gradient(to bottom,#ee1c25 0%,#c0144a 25%,#7b1a8a 55%,#3a2f9a 80%,#1f4aa0 100%)';
page.appendChild(gBar);
[['1.70',2142],['1.65',2161.7],['1.60',2181.3],['1.55',2201.5],['1.50',2221.6]].forEach(r => {
  rect(1653, r[1]-.4, 3.5, .8, '#fff');
  rect(1666.5, r[1]-.4, 3.5, .8, '#fff');
  txt(r[0], 1676, r[1], {size:9.5});
});
txt('category', 1653, 2260, {size:11.5});
gCategories.forEach((c,i) => {
  const y = [2284,2307,2329,2351.7,2374.5][i];
  const e = gEdges[i];
  rect(1654, y-.8, 14, 1.6, e[2]);
  txt(c, 1675.6, y, {size:9.2});
});
txt('size', 1653, 2402, {size:11.5});
const gSize = document.createElement('div');
gSize.className = 'm';
gSize.style.cssText = 'left:1655px;top:2419px;width:23.5px;height:29.5px;background:#000;border-radius:50%';
page.appendChild(gSize);
txt('1', 1687, 2434, {size:10});

// panel letters
[['A',60,26],['B',898,26],['C',60,653],['D',910,653],['E',60,1376],['F',64,1923],['G',923,1928]].forEach(r => txt(r[0], r[1], r[2], {size:39, color:'#222'}));
</script>
</body>
</html>
